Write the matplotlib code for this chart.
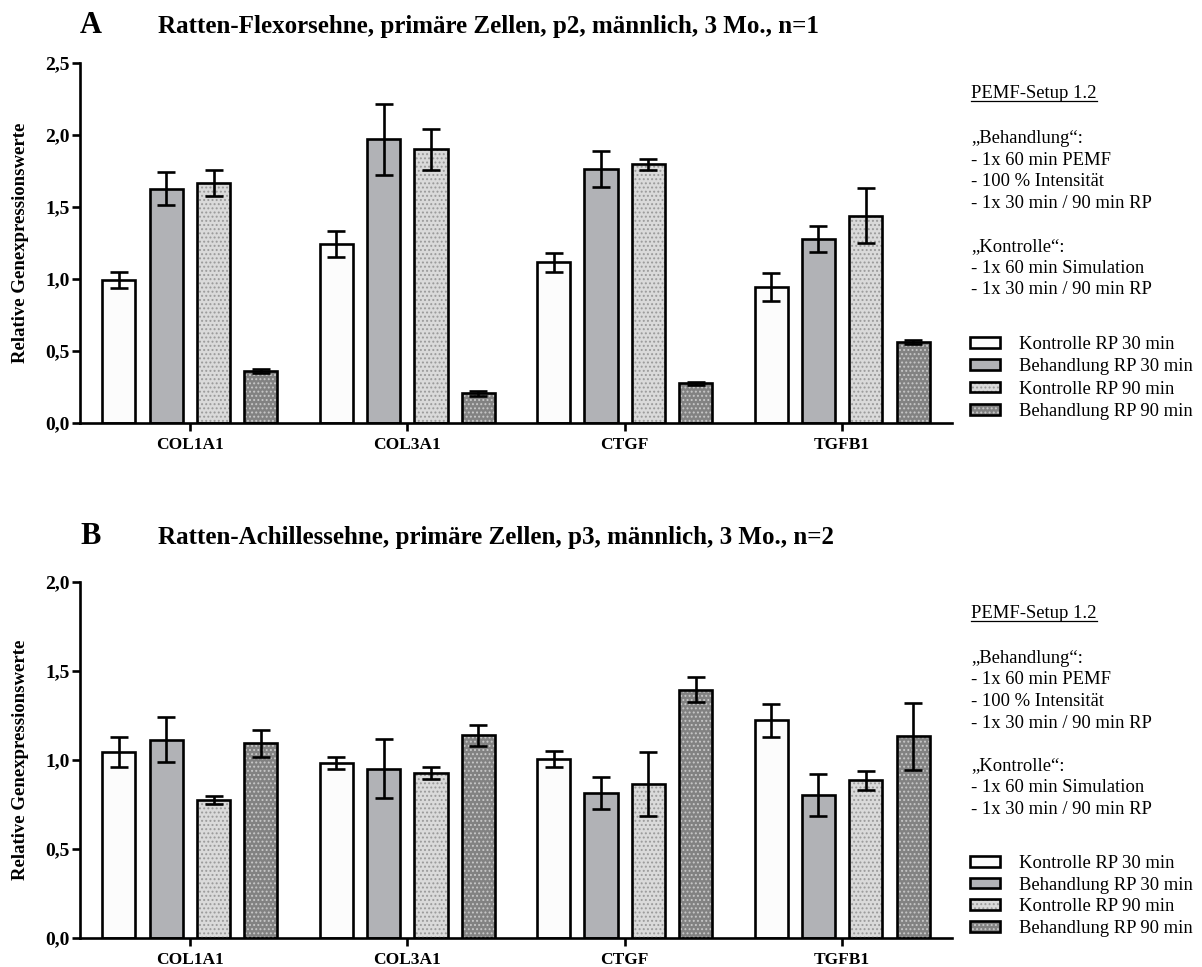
import matplotlib
matplotlib.use("Agg")
import matplotlib.pyplot as plt
import numpy as np
from matplotlib.patches import Patch
from matplotlib.legend_handler import HandlerTuple
from matplotlib.lines import Line2D

plt.rcParams['font.family'] = ['Liberation Serif', 'DejaVu Serif']
plt.rcParams['hatch.linewidth'] = 0.9

categories = ["COL1A1", "COL3A1", "CTGF", "TGFB1"]
series = ["Kontrolle RP 30 min", "Behandlung RP 30 min",
          "Kontrolle RP 90 min", "Behandlung RP 90 min"]

# Panel A values (mean, error)
a_k30 = [0.995, 1.245, 1.115, 0.944]
a_b30 = [1.628, 1.970, 1.762, 1.278]
a_k90 = [1.665, 1.900, 1.796, 1.440]
a_b90 = [0.360, 0.205, 0.275, 0.562]
a_k30_err = [0.056, 0.090, 0.063, 0.100]
a_b30_err = [0.115, 0.246, 0.125, 0.090]
a_k90_err = [0.090, 0.140, 0.040, 0.192]
a_b90_err = [0.012, 0.015, 0.010, 0.015]

# Panel B values
b_k30 = [1.045, 0.985, 1.004, 1.222]
b_b30 = [1.115, 0.952, 0.812, 0.805]
b_k90 = [0.774, 0.926, 0.866, 0.886]
b_b90 = [1.093, 1.138, 1.396, 1.133]
b_k30_err = [0.086, 0.034, 0.045, 0.092]
b_b30_err = [0.125, 0.167, 0.090, 0.118]
b_k90_err = [0.022, 0.032, 0.180, 0.055]
b_b90_err = [0.078, 0.061, 0.070, 0.188]

title_a = "Ratten-Flexorsehne, primäre Zellen, p2, männlich, 3 Mo., n=1"
title_b = "Ratten-Achillessehne, primäre Zellen, p3, männlich, 3 Mo., n=2"
ylabel = "Relative Genexpressionswerte"
yticks_a = [0.0, 0.5, 1.0, 1.5, 2.0, 2.5]
yticks_b = [0.0, 0.5, 1.0, 1.5, 2.0]
side_lines = ["\u201eBehandlung\u201c:", "- 1x 60 min PEMF", "- 100 % Intensität",
              "- 1x 30 min / 90 min RP", "", "\u201eKontrolle\u201c:",
              "- 1x 60 min Simulation", "- 1x 30 min / 90 min RP"]
setup_title = "PEMF-Setup 1.2"

faces = ["#fcfcfc", "#b1b2b6", "#dadada", "#828282"]
hatches = [None, None, "....", "...."]
hatch_cols = [None, None, "#9a9a9a", "#c8c8c8"]
offsets = [-0.327, -0.109, 0.109, 0.327]
width = 0.152
EW = 1.9
SIDE_FS = 13.4

fig = plt.figure(figsize=(12.02, 9.67), dpi=100)
W, H = 1202, 967


def fy(px):
    return 1 - px / H


def make_axes(top_px, bot_px):
    return fig.add_axes([80 / W, fy(bot_px), (952 - 80) / W, (bot_px - top_px) / H])


def draw_panel(ax, vals, errs, ymax, yticks):
    x = np.arange(len(categories))
    for i in range(4):
        xs = x + offsets[i]
        ax.bar(xs, vals[i], width, color=faces[i], edgecolor="none", linewidth=0, zorder=2)
        if hatches[i]:
            ax.bar(xs, vals[i], width, color="none", edgecolor=hatch_cols[i],
                   hatch=hatches[i], linewidth=0, zorder=3)
        ax.bar(xs, vals[i], width, fill=False, edgecolor="black", linewidth=EW, zorder=4)
        ax.errorbar(xs, vals[i], yerr=errs[i], fmt="none", ecolor="black",
                    elinewidth=EW, capsize=6.5, capthick=EW, zorder=5)
    ax.set_xlim(-0.505, 3.505)
    ax.set_ylim(0, ymax)
    ax.set_xticks(x)
    ax.set_xticklabels(categories, fontsize=12.5, fontweight="bold")
    ax.set_yticks(yticks)
    ax.set_yticklabels([f"{t:.1f}".replace(".", ",") for t in yticks],
                       fontsize=14, fontweight="bold")
    for s in ["top", "right"]:
        ax.spines[s].set_visible(False)
    for s in ["left", "bottom"]:
        ax.spines[s].set_linewidth(1.9)
    ax.tick_params(axis="both", direction="out", length=6, width=1.9)
    ax.tick_params(axis="y", pad=1.5)
    ax.tick_params(axis="x", pad=4)
    ax.set_ylabel(ylabel, fontsize=13.5, fontweight="bold")
    ax.yaxis.set_label_coords(-0.0585, 0.5)


def legend_handles():
    hs = []
    for i in range(4):
        parts = [Patch(facecolor=faces[i], edgecolor="none", linewidth=0)]
        if hatches[i]:
            parts.append(Patch(facecolor="none", edgecolor=hatch_cols[i], hatch=hatches[i], linewidth=0))
        parts.append(Patch(fill=False, edgecolor="black", linewidth=EW))
        hs.append(tuple(parts))
    return hs


axA = make_axes(63, 423)
draw_panel(axA, [a_k30, a_b30, a_k90, a_b90], [a_k30_err, a_b30_err, a_k90_err, a_b90_err], 2.5, yticks_a)
axB = make_axes(582, 938)
draw_panel(axB, [b_k30, b_b30, b_k90, b_b90], [b_k30_err, b_b30_err, b_k90_err, b_b90_err], 2.0, yticks_b)

fig.text(80 / W, fy(33), "A", fontsize=22, fontweight="bold", va="baseline", ha="left")
fig.text(158 / W, fy(33), title_a, fontsize=18, fontweight="bold", va="baseline", ha="left")
fig.text(80 / W, fy(544), "B", fontsize=22, fontweight="bold", va="baseline", ha="left")
fig.text(158 / W, fy(544), title_b, fontsize=18, fontweight="bold", va="baseline", ha="left")


def side_text(y_setup, y_lines, step, leg_top, leg_spacing):
    t = fig.text(971 / W, fy(y_setup), setup_title, fontsize=SIDE_FS, va="baseline", ha="left")
    fig.canvas.draw()
    bb = t.get_window_extent()
    yl = fy(y_setup + 3)
    fig.add_artist(Line2D([bb.x0 / W, bb.x1 / W], [yl, yl], color="black", linewidth=0.9))
    for j, line in enumerate(side_lines):
        if line:
            fig.text(971 / W, fy(y_lines + step * j), line, fontsize=SIDE_FS,
                     va="baseline", ha="left")
    fs_px = SIDE_FS * 100 / 72
    leg = fig.legend(legend_handles(), series, loc="upper left",
                     bbox_to_anchor=(970 / W, fy(leg_top)), frameon=False,
                     fontsize=SIDE_FS, handler_map={tuple: HandlerTuple(ndivide=1, pad=0)},
                     handlelength=30 / fs_px, handleheight=0.5, handletextpad=19 / fs_px,
                     labelspacing=leg_spacing, borderpad=0, borderaxespad=0)
    return leg


side_text(98, 143, 21.6, 336, 0.29)
side_text(618, 663, 21.5, 855, 0.25)

fig.savefig("out.png", dpi=100)
